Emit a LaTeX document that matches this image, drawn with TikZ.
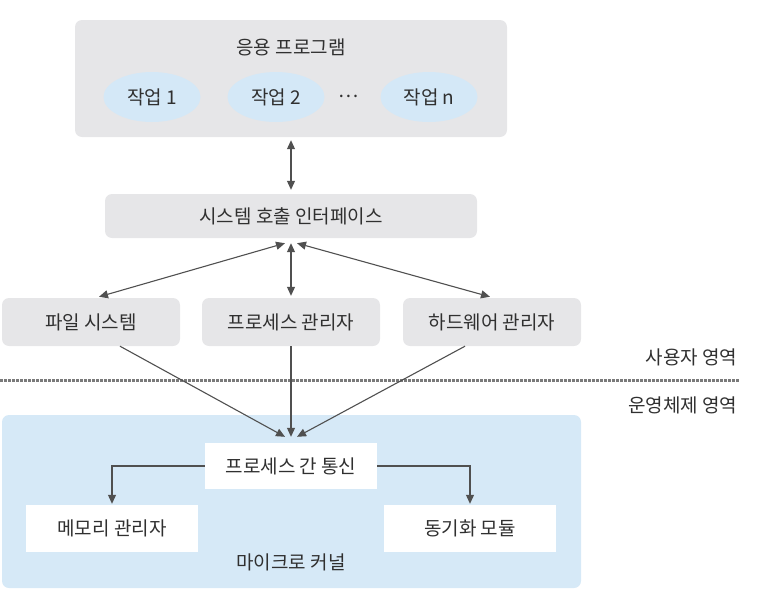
\documentclass[tikz,border=0pt]{standalone}
\usepackage{fontspec}
\setmainfont{Noto Sans CJK KR}
\usetikzlibrary{arrows.meta,shapes.geometric}
\definecolor{boxgray}{HTML}{E6E6E8}
\definecolor{kblue}{HTML}{D6E9F7}
\definecolor{eblue}{HTML}{D4E8F7}
\definecolor{arrowc}{HTML}{505050}
\definecolor{txtc}{HTML}{303030}
\definecolor{dotc}{HTML}{7A7A7A}
\tikzset{
  lbl/.style={font=\fontsize{19}{22}\selectfont, text=txtc},
  graybox/.style={lbl, rectangle, rounded corners=7pt, fill=boxgray, draw=none, inner sep=0pt},
  whitebox/.style={lbl, rectangle, fill=white, draw=none, inner sep=0pt, minimum width=172pt, minimum height=47pt},
  taskell/.style={lbl, ellipse, fill=eblue, draw=none, inner sep=0pt, minimum width=97pt, minimum height=50pt},
  conn/.style={draw=arrowc, line width=1.1pt},
  tip/.style={arrows={-Triangle[length=9pt,width=8pt]}},
  dtip/.style={arrows={Triangle[length=9pt,width=8pt]-Triangle[length=9pt,width=8pt]}},
}
\begin{document}
\begin{tikzpicture}[x=1pt,y=-1pt]
\useasboundingbox (0,0) rectangle (772,592);
% application box
\node[graybox, minimum width=432pt, minimum height=117pt] (app) at (291,78.5) {};
\node[lbl] (apptitle) at (291,47) {응용 프로그램};
\node[taskell] (t1) at (152,97) {작업 1};
\node[taskell] (t2) at (276,97) {작업 2};
\node[lbl] (dots) at (349,96) {⋯};
\node[taskell] (tn) at (429,97) {작업 n};
% system call interface
\node[graybox, minimum width=372pt, minimum height=44pt] (sys) at (291,216) {시스템 호출 인터페이스};
% managers
\node[graybox, minimum width=178pt, minimum height=48pt] (fs) at (91,322) {파일 시스템};
\node[graybox, minimum width=178pt, minimum height=48pt] (pm) at (291,322) {프로세스 관리자};
\node[graybox, minimum width=178pt, minimum height=48pt] (hw) at (492,322) {하드웨어 관리자};
% region labels and separator
\node[lbl, anchor=east] (user) at (741,357) {사용자 영역};
\node[lbl, anchor=east] (os) at (741,405) {운영체제 영역};
\coordinate (sepL) at (0,380);
\coordinate (sepR) at (739,380);
\draw[dotc, line width=3pt, dash pattern=on 2.8pt off 1.2pt] (sepL) -- (sepR);
% kernel
\node[rectangle, rounded corners=7pt, fill=kblue, draw=none, minimum width=579pt, minimum height=173pt, inner sep=0pt] (kernel) at (291.5,501.5) {};
\node[whitebox, minimum height=46pt] (ipc) at (291,466) {프로세스 간 통신};
\node[whitebox] (mem) at (112,528.5) {메모리 관리자};
\node[whitebox] (sync) at (470,528.5) {동기화 모듈};
\node[lbl] (mk) at (291,562) {마이크로 커널};
% connectors
\draw[conn, dtip] ([yshift=-3pt]app.south) -- ([yshift=4pt]sys.north);
\draw[conn, dtip] ([xshift=-6pt,yshift=-5pt]sys.south) -- ([xshift=8pt,yshift=1pt]fs.north);
\draw[conn, dtip] ([yshift=-5pt]sys.south) -- ([yshift=2pt]pm.north);
\draw[conn, dtip] ([xshift=6pt,yshift=-5pt]sys.south) -- ([xshift=-2pt,yshift=1pt]hw.north);
\draw[conn, tip] ([xshift=29pt]fs.south) -- ([xshift=-6pt,yshift=6pt]ipc.north);
\draw[conn, tip] (pm.south) -- ([yshift=6pt]ipc.north);
\draw[conn, tip] ([xshift=-27pt]hw.south) -- ([xshift=6pt,yshift=6pt]ipc.north);
\draw[conn, tip] (ipc.west) -| ([yshift=1pt]mem.north);
\draw[conn, tip] (ipc.east) -| ([yshift=1pt]sync.north);
\end{tikzpicture}
\end{document}
